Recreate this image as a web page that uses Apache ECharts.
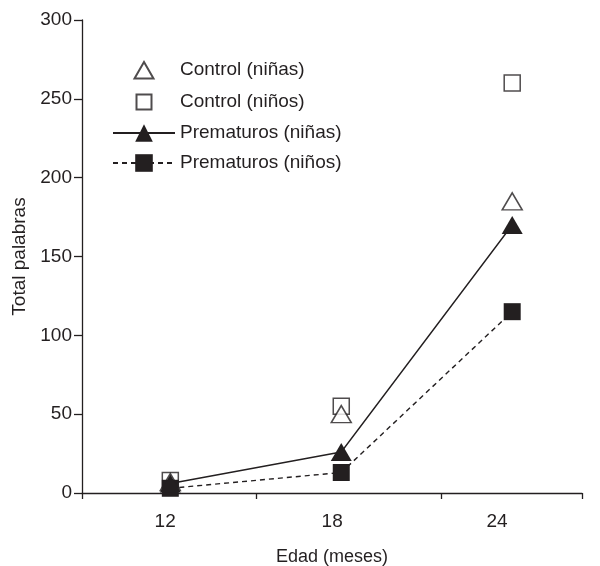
<!DOCTYPE html>
<html>
<head>
<meta charset="utf-8">
<script src="https://cdn.jsdelivr.net/npm/echarts@6/dist/echarts.min.js"></script>
<style>
  html, body { margin: 0; padding: 0; background: #fff; }
  #chart { width: 600px; height: 566px; }
</style>
</head>
<body>
<div id="chart"></div>
<script>
// Edad en meses y total de palabras por grupo
const ages = [12, 18, 24];
const xTickLabels = ['12', '18', '24'];
const yTicks = [0, 50, 100, 150, 200, 250, 300];

const controlGirls = [7, 50, 185];
const controlBoys = [8, 55, 260];
const pretermGirls = [6, 26, 170];
const pretermBoys = [3, 13, 115];

const seriesNames = ['Control (niñas)', 'Control (niños)', 'Prematuros (niñas)', 'Prematuros (niños)'];

const ink = '#231f20';
const font = '"Liberation Sans", Arial, sans-serif';

const pairs = vals => ages.map((a, i) => [a, vals[i]]);

// Legend icons for the open markers: the leading moveTo points widen the
// path's bounding box so the glyph stays centred in the 62px-wide icon slot.
const openTriangleIcon = 'path://M0,0 M62,22 M21.5,19.5 L31,3 L40.5,19.5 Z';
const openSquareIcon = 'path://M0,0 M62,22 M23.5,3.5 L38.5,3.5 L38.5,18.5 L23.5,18.5 Z';

// Label at the tick nearest to a given axis position
const nearestAgeLabel = v => {
  let best = 0;
  ages.forEach((a, i) => { if (Math.abs(a - v) < Math.abs(ages[best] - v)) best = i; });
  return xTickLabels[best];
};

const chart = echarts.init(document.getElementById('chart'), null, { renderer: 'canvas' });

chart.setOption({
  animation: false,
  backgroundColor: '#ffffff',
  textStyle: { fontFamily: font, color: ink },
  grid: { left: 82, right: 18, top: 20, bottom: 73, containLabel: false, outerBoundsMode: 'none' },
  legend: {
    left: 112,
    top: 58,
    padding: 0,
    orient: 'vertical',
    itemWidth: 62,
    itemHeight: 22,
    itemGap: 8,
    textStyle: { fontFamily: font, fontSize: 19, lineHeight: 22, color: ink },
    data: [
      { name: seriesNames[0], icon: openTriangleIcon },
      { name: seriesNames[1], icon: openSquareIcon },
      { name: seriesNames[2] },
      { name: seriesNames[3] }
    ]
  },
  xAxis: {
    type: 'value',
    min: 8.9,
    max: 26.45,
    name: 'Edad (meses)',
    nameLocation: 'middle',
    nameGap: 55,
    nameTextStyle: { fontFamily: font, fontSize: 18, color: ink },
    axisLine: { show: true, onZero: false, lineStyle: { color: ink, width: 1.3 } },
    axisTick: { show: true, length: 6, lineStyle: { color: ink, width: 1.3 }, customValues: [8.9, 15, 21.5, 26.45] },
    axisLabel: {
      show: true,
      fontFamily: font, fontSize: 19, color: ink, margin: 19,
      customValues: [11.82, 17.68, 23.47],
      formatter: v => nearestAgeLabel(v)
    },
    splitLine: { show: false }
  },
  yAxis: {
    type: 'value',
    min: yTicks[0],
    max: yTicks[yTicks.length - 1],
    interval: 50,
    name: 'Total palabras',
    nameLocation: 'middle',
    nameGap: 50,
    nameTextStyle: { fontFamily: font, fontSize: 19, color: ink },
    axisLine: { show: true, lineStyle: { color: ink, width: 1.3 } },
    axisTick: { show: true, length: 8, lineStyle: { color: ink, width: 1.3 } },
    axisLabel: { fontFamily: font, fontSize: 19, color: ink, margin: 10 },
    splitLine: { show: false }
  },
  series: [
    {
      name: seriesNames[0],
      type: 'scatter',
      symbol: 'triangle',
      symbolSize: [20, 17],
      itemStyle: { color: '#ffffff', borderColor: ink, borderWidth: 1.5 },
      data: pairs(controlGirls),
      z: 3
    },
    {
      name: seriesNames[1],
      type: 'scatter',
      symbol: 'rect',
      symbolSize: 16,
      itemStyle: { color: '#ffffff', borderColor: ink, borderWidth: 1.5 },
      data: pairs(controlBoys),
      z: 2
    },
    {
      name: seriesNames[2],
      type: 'line',
      symbol: 'triangle',
      symbolSize: [21, 18],
      showSymbol: true,
      lineStyle: { color: ink, width: 1.4, type: 'solid' },
      itemStyle: { color: ink, borderColor: ink, borderWidth: 0 },
      data: pairs(pretermGirls),
      z: 5
    },
    {
      name: seriesNames[3],
      type: 'line',
      symbol: 'rect',
      symbolSize: 17,
      showSymbol: true,
      lineStyle: { color: ink, width: 1.4, type: [5, 4] },
      itemStyle: { color: ink, borderColor: ink, borderWidth: 0 },
      data: pairs(pretermBoys),
      z: 4
    }
  ]
});
</script>
</body>
</html>
